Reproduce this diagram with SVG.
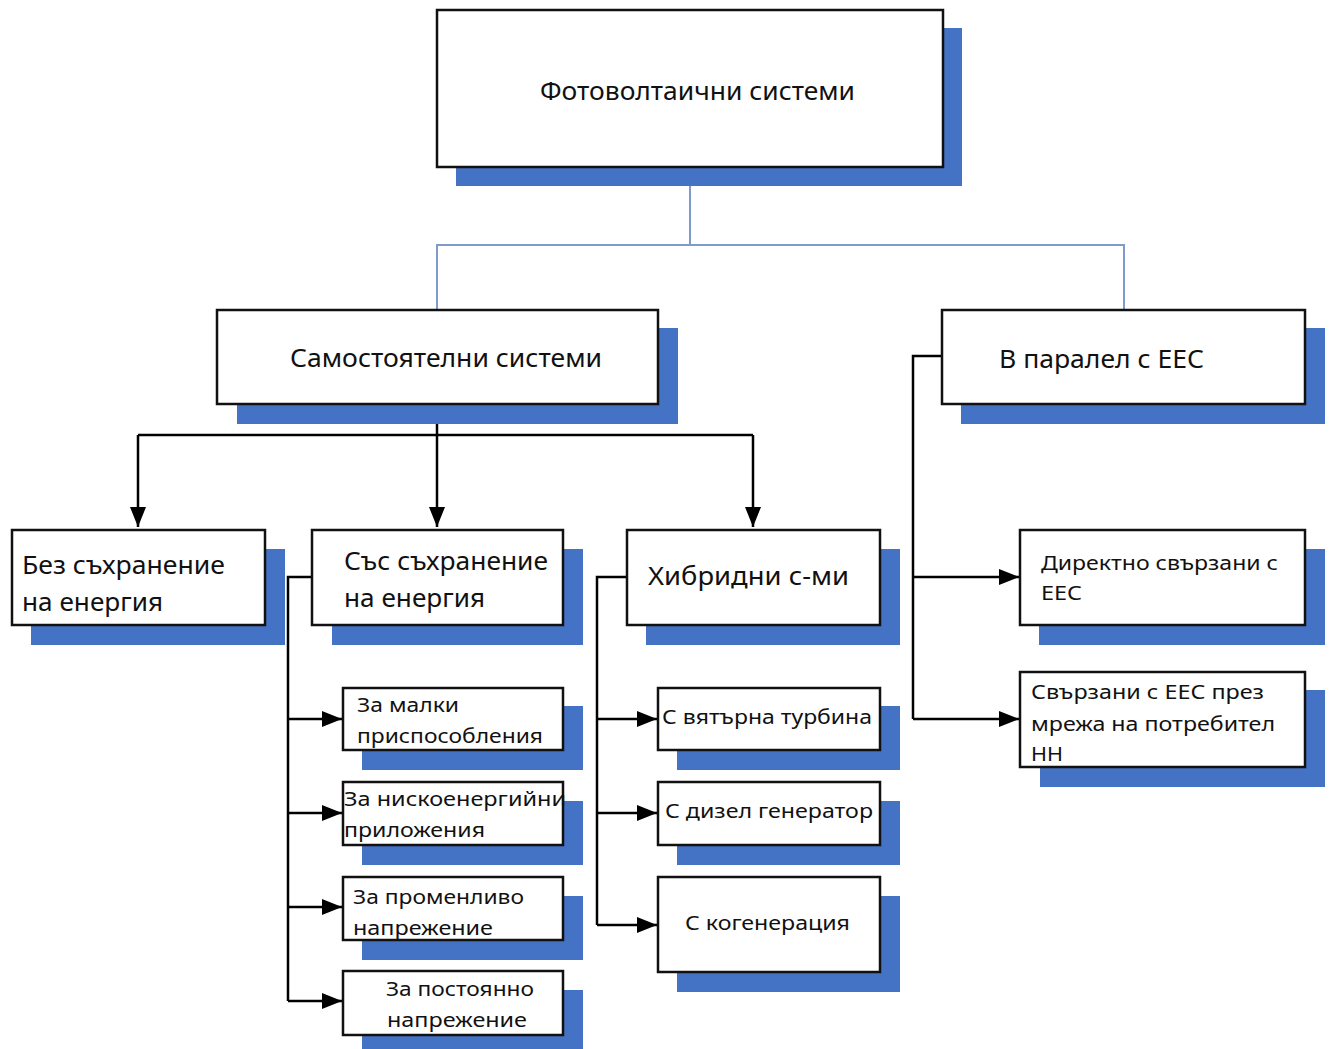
<svg xmlns="http://www.w3.org/2000/svg" width="1331" height="1049" viewBox="0 0 1331 1049">
<defs>
<marker id="ah" markerUnits="userSpaceOnUse" markerWidth="22" markerHeight="16" refX="20" refY="8" orient="auto">
<path d="M0,0 L20,8 L0,16 Z" fill="#000"/>
</marker>
</defs>
<style>
.sh{fill:#4472c4}
.bx{fill:#fff;stroke:#111;stroke-width:2.5}
.t{font-family:"Noto Sans","Liberation Sans",sans-serif;fill:#111}
.L{font-size:25px}
.S{font-size:20px}
.ln{fill:none;stroke:#000;stroke-width:2.5}
.bl{fill:none;stroke:#7f9cc8;stroke-width:2}
</style>
<rect width="1331" height="1049" fill="#fff"/>

<g id="connectors">
<path class="bl" d="M690,167 V245 M437,310 V245 H1124 V310"/>
<path class="ln" d="M437,404 V527" marker-end="url(#ah)"/>
<path class="ln" d="M138,435 H753"/>
<path class="ln" d="M138,435 V527" marker-end="url(#ah)"/>
<path class="ln" d="M753,435 V527" marker-end="url(#ah)"/>
<path class="ln" d="M312,577 H288 V1001"/>
<path class="ln" d="M288,719 H342" marker-end="url(#ah)"/>
<path class="ln" d="M288,813 H342" marker-end="url(#ah)"/>
<path class="ln" d="M288,907 H342" marker-end="url(#ah)"/>
<path class="ln" d="M288,1001 H342" marker-end="url(#ah)"/>
<path class="ln" d="M627,577 H597 V925"/>
<path class="ln" d="M597,719 H657" marker-end="url(#ah)"/>
<path class="ln" d="M597,813 H657" marker-end="url(#ah)"/>
<path class="ln" d="M597,925 H657" marker-end="url(#ah)"/>
<path class="ln" d="M942,356 H913 V719"/>
<path class="ln" d="M913,577 H1019" marker-end="url(#ah)"/>
<path class="ln" d="M913,719 H1019" marker-end="url(#ah)"/>
</g>

<g id="root">
<rect class="sh" x="456" y="28" width="506" height="158"/>
<rect class="bx" x="437" y="10" width="506" height="157"/>
<text class="t L" x="540" y="100" textLength="315" lengthAdjust="spacingAndGlyphs">Фотоволтаични системи</text>
</g>

<g id="standalone">
<rect class="sh" x="237" y="328" width="441" height="96"/>
<rect class="bx" x="217" y="310" width="441" height="94"/>
<text class="t L" x="290" y="367" textLength="312" lengthAdjust="spacingAndGlyphs">Самостоятелни системи</text>
</g>

<g id="parallel">
<rect class="sh" x="961" y="328" width="364" height="96"/>
<rect class="bx" x="942" y="310" width="363" height="94"/>
<text class="t L" x="999" y="368" textLength="205" lengthAdjust="spacingAndGlyphs">В паралел с ЕЕС</text>
</g>

<g id="no-storage">
<rect class="sh" x="31" y="549" width="254" height="96"/>
<rect class="bx" x="12" y="530" width="253" height="95"/>
<text class="t L" x="22" y="574" textLength="203" lengthAdjust="spacingAndGlyphs">Без съхранение</text>
<text class="t L" x="22" y="611" textLength="141" lengthAdjust="spacingAndGlyphs">на енергия</text>
</g>

<g id="with-storage">
<rect class="sh" x="332" y="549" width="251" height="96"/>
<rect class="bx" x="312" y="530" width="251" height="95"/>
<text class="t L" x="344" y="570" textLength="204" lengthAdjust="spacingAndGlyphs">Със съхранение</text>
<text class="t L" x="344" y="607" textLength="141" lengthAdjust="spacingAndGlyphs">на енергия</text>
</g>

<g id="hybrid">
<rect class="sh" x="646" y="549" width="254" height="96"/>
<rect class="bx" x="627" y="530" width="253" height="95"/>
<text class="t L" x="648" y="585" textLength="201" lengthAdjust="spacingAndGlyphs">Хибридни с-ми</text>
</g>

<g id="direct">
<rect class="sh" x="1039" y="549" width="286" height="96"/>
<rect class="bx" x="1020" y="530" width="285" height="95"/>
<text class="t S" x="1041" y="570" textLength="237" lengthAdjust="spacingAndGlyphs">Директно свързани с</text>
<text class="t S" x="1041" y="600" textLength="41" lengthAdjust="spacingAndGlyphs">ЕЕС</text>
</g>

<g id="via-lv">
<rect class="sh" x="1040" y="690" width="285" height="97"/>
<rect class="bx" x="1020" y="672" width="285" height="95"/>
<text class="t S" x="1031" y="699" textLength="233" lengthAdjust="spacingAndGlyphs">Свързани с ЕЕС през</text>
<text class="t S" x="1031" y="731" textLength="244" lengthAdjust="spacingAndGlyphs">мрежа на потребител</text>
<text class="t S" x="1031" y="761" textLength="32" lengthAdjust="spacingAndGlyphs">НН</text>
</g>

<g id="small-devices">
<rect class="sh" x="362" y="706" width="221" height="64"/>
<rect class="bx" x="343" y="688" width="220" height="62"/>
<text class="t S" x="357" y="712" textLength="102" lengthAdjust="spacingAndGlyphs">За малки</text>
<text class="t S" x="357" y="743" textLength="186" lengthAdjust="spacingAndGlyphs">приспособления</text>
</g>

<g id="low-energy">
<rect class="sh" x="362" y="801" width="221" height="64"/>
<rect class="bx" x="343" y="782" width="220" height="63"/>
<text class="t S" x="344" y="806" textLength="222" lengthAdjust="spacingAndGlyphs">За нискоенергийни</text>
<text class="t S" x="344" y="837" textLength="141" lengthAdjust="spacingAndGlyphs">приложения</text>
</g>

<g id="ac">
<rect class="sh" x="362" y="896" width="221" height="64"/>
<rect class="bx" x="343" y="877" width="220" height="63"/>
<text class="t S" x="353" y="904" textLength="171" lengthAdjust="spacingAndGlyphs">За променливо</text>
<text class="t S" x="353" y="935" textLength="140" lengthAdjust="spacingAndGlyphs">напрежение</text>
</g>

<g id="dc">
<rect class="sh" x="362" y="990" width="221" height="64"/>
<rect class="bx" x="343" y="971" width="220" height="64"/>
<text class="t S" x="386" y="996" textLength="148" lengthAdjust="spacingAndGlyphs">За постоянно</text>
<text class="t S" x="387" y="1027" textLength="140" lengthAdjust="spacingAndGlyphs">напрежение</text>
</g>

<g id="wind">
<rect class="sh" x="677" y="706" width="223" height="64"/>
<rect class="bx" x="658" y="688" width="222" height="62"/>
<text class="t S" x="662" y="724" textLength="210" lengthAdjust="spacingAndGlyphs">С вятърна турбина</text>
</g>

<g id="diesel">
<rect class="sh" x="677" y="801" width="223" height="64"/>
<rect class="bx" x="658" y="782" width="222" height="63"/>
<text class="t S" x="665" y="818" textLength="208" lengthAdjust="spacingAndGlyphs">С дизел генератор</text>
</g>

<g id="cogen">
<rect class="sh" x="677" y="896" width="223" height="96"/>
<rect class="bx" x="658" y="877" width="222" height="95"/>
<text class="t S" x="685" y="930" textLength="165" lengthAdjust="spacingAndGlyphs">С когенерация</text>
</g>
</svg>
